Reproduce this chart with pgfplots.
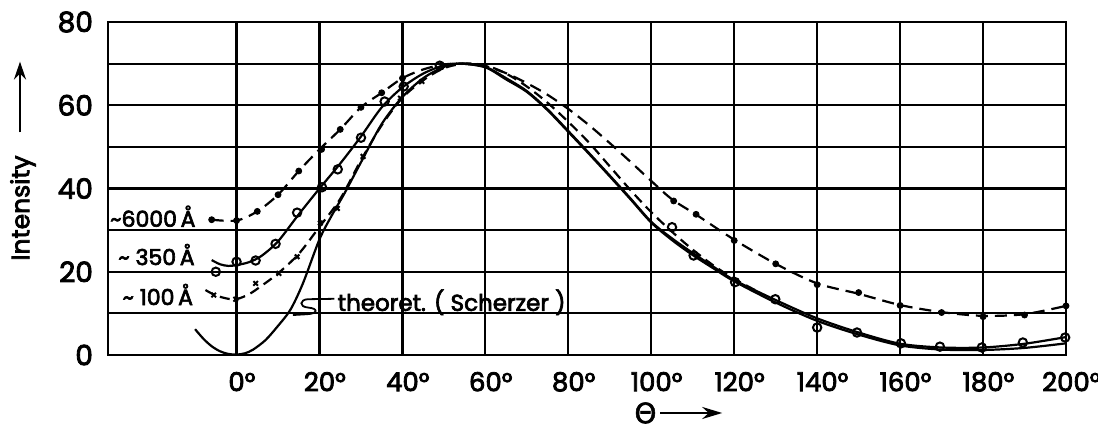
\documentclass[border=0pt]{standalone}
\usepackage{pgfplots}
\pgfplotsset{compat=1.18}
\usepackage{pgfplotstable}
\usepackage{fontspec}
\setmainfont{Poppins}[FakeBold=3]
\newfontfamily\greekfont{DejaVu Sans}[FakeBold=2]
\usetikzlibrary{arrows.meta}

% Fitted curves (angle in degrees, intensity)
\pgfplotstableread{
t I
-10 6.2
-8 3.9
-6 2.1
-4 0.9
-2 0.25
0 0.1
2 0.4
4 1.3
7 3.6
10 7.0
13 10.9
16 17.2
20 27.8
23 33.6
26 38.8
30 46.3
35 55.5
40 62.0
45 66.5
50 69.2
54 70.0
60 69.1
65 66.2
70 63.2
75 58.8
80 53.6
85 48.3
90 42.9
95 37.4
100 31.8
105 27.6
110 24.0
115 20.8
120 17.7
130 12.6
140 8.2
150 4.9
160 2.3
170 1.3
180 1.2
190 1.7
200 2.8
}\theoret

\pgfplotstableread{
t I
-6 22.8
-4 21.8
-2 21.4
0 21.6
3 22.3
6 23.8
10 27.3
15 33.8
20 40.0
25 46.0
30 52.5
35 59.5
40 64.3
45 67.6
50 69.6
54 70.0
60 69.2
65 66.5
70 63.4
75 59.0
80 53.8
85 48.5
90 43.1
95 37.6
100 32.0
105 28.0
110 24.5
115 21.2
120 18.0
130 13.2
140 8.8
150 5.4
160 2.7
170 1.8
180 1.8
190 2.7
200 4.3
}\curveB

\pgfplotstableread{
t I
-7.5 15.6
-5 14.3
-2 13.5
0 13.4
3 14.6
6 16.6
10 19.6
15 24.3
20 30.8
25 37.5
30 46.8
35 55.2
40 61.8
45 66.0
50 68.9
55 70.0
60 69.6
65 67.6
70 64.5
75 60.6
80 56.0
85 51.0
90 45.3
95 39.6
100 34.3
105 29.6
110 25.3
115 21.5
120 18.3
125 15.6
}\curveC

\pgfplotstableread{
t I
-6 32.5
0 32.3
5 34.5
10 38.5
15 44.2
20 49.4
25 54.2
30 59.5
35 63.0
40 66.5
45 68.6
50 69.8
55 70.0
60 69.4
65 67.7
70 65.3
75 62.5
80 59.1
85 55.2
90 50.9
95 46.4
100 41.8
105 37.4
111 33.6
120 27.7
130 21.9
140 17.2
150 14.7
160 12.0
170 10.3
180 9.4
190 9.8
200 11.8
}\curveA

% Measured points
\pgfplotstableread{
t I
-6 32.5
0 32.3
5 34.5
10 38.5
15 44.2
20.5 49.4
25 54.2
30 59.5
35 63.0
40 66.5
105.4 37.0
110.8 33.8
120 27.5
130 21.9
140 16.9
150 15.0
160 11.9
170 10.2
180 9.2
190 9.6
200 11.8
}\ptsA

\pgfplotstableread{
t I
-5 20.0
0 22.4
4.6 22.7
9.4 26.7
14.6 34.2
20.6 40.3
24.4 44.6
30 52.2
35.7 60.9
40.3 64.5
49 69.5
105 30.7
110.2 23.9
120.2 17.5
129.9 13.4
140 6.6
149.6 5.4
160.2 2.8
169.6 2.0
179.7 1.8
189.6 3.0
199.8 4.2
}\ptsB

\pgfplotstableread{
t I
-5.5 14.4
-0.2 13.4
4.6 17.2
10.2 19.6
14.6 23.6
20.2 31.7
24.3 35.2
30.5 47.7
39.5 61.7
44.7 65.7
}\ptsC

\begin{document}
\begin{tikzpicture}
\begin{axis}[
  scale only axis,
  width=479pt, height=166.5pt,
  xmin=-31, xmax=200, ymin=0, ymax=80,
  axis line style={line width=1.3pt},
  xtick={0,20,...,200},
  xticklabels={0\rlap{°},20\rlap{°},40\rlap{°},60\rlap{°},80\rlap{°},100\rlap{°},120\rlap{°},140\rlap{°},160\rlap{°},180\rlap{°},200\rlap{°}},
  ytick={0,20,...,80},
  minor ytick={10,30,50,70},
  grid=both,
  major grid style={line width=1.1pt, black},
  minor grid style={line width=1.1pt, black},
  major tick length=0pt, minor tick length=0pt,
  /pgf/number format/assume math mode=true,
  yticklabel style={font=\fontsize{14}{14}\selectfont, xshift=-4pt},
  xticklabel style={font=\fontsize{13}{13}\selectfont, yshift=-5pt},
  clip=false,
]
% curves
\addplot[black, line width=1.1pt, smooth, tension=0.5] table {\theoret};
\addplot[black, line width=1.1pt, smooth, tension=0.5] table {\curveB};
\addplot[black, line width=1.1pt, smooth, tension=0.5, dash pattern={on 5pt off 3pt}] table {\curveC};
\addplot[black, line width=1.1pt, smooth, tension=0.5, dash pattern={on 6pt off 3.5pt}] table {\curveA};
% measured points
\addplot[only marks, black, mark=*, mark size=1.5pt] table {\ptsA};
\addplot[only marks, black, mark=o, mark size=2.1pt, line width=1pt, mark options={fill=white}] table {\ptsB};
\addplot[only marks, black, mark=x, mark size=1.6pt, line width=1pt] table {\ptsC};

% curve labels
\node[anchor=base east, font=\fontsize{11}{12}\selectfont] at (axis cs:-8.2,30.8) {\textasciitilde 6000\,Å};
\node[anchor=base east, font=\fontsize{11}{12}\selectfont] at (axis cs:-8.4,21.6) {\textasciitilde\ 350\,Å};
\node[anchor=base east, font=\fontsize{11}{12}\selectfont] at (axis cs:-8.8,12.0) {\textasciitilde\ 100\,Å};
\node[anchor=base west, font=\fontsize{11.5}{12}\selectfont, inner sep=0pt] at (axis cs:24.3,10.6) {theoret. ( Scherzer )};
\draw[line width=0.9pt] (axis cs:23.6,13.5) -- (axis cs:17.2,13.4)
  .. controls (axis cs:15.2,13.3) and (axis cs:15.0,11.6) .. (axis cs:17.2,11.4)
  .. controls (axis cs:19.8,11.2) and (axis cs:19.6,9.9) .. (axis cs:17.0,9.8)
  -- (axis cs:13.6,9.6);

% axis titles
\node[rotate=90, font=\fontsize{12.5}{14}\selectfont] at ([xshift=-42.5pt]axis cs:-31,35.3) {Intensity};
\draw[line width=1.2pt, -{Stealth[length=9pt,width=6pt]}] ([xshift=-44pt]axis cs:-31,53.5) -- ([xshift=-44pt]axis cs:-31,70.5);
\node[font=\greekfont\fontsize{14}{14}\selectfont] at ([yshift=-29pt]axis cs:98.6,0) {Θ};
\draw[line width=1.3pt, -{Stealth[length=10pt,width=6pt]}] ([yshift=-29pt]axis cs:102.2,0) -- ([yshift=-29pt]axis cs:117.1,0);
\end{axis}
\pgfresetboundingbox
\path[use as bounding box] (-54pt,-38pt) rectangle (495pt,177.5pt);
\end{tikzpicture}
\end{document}
